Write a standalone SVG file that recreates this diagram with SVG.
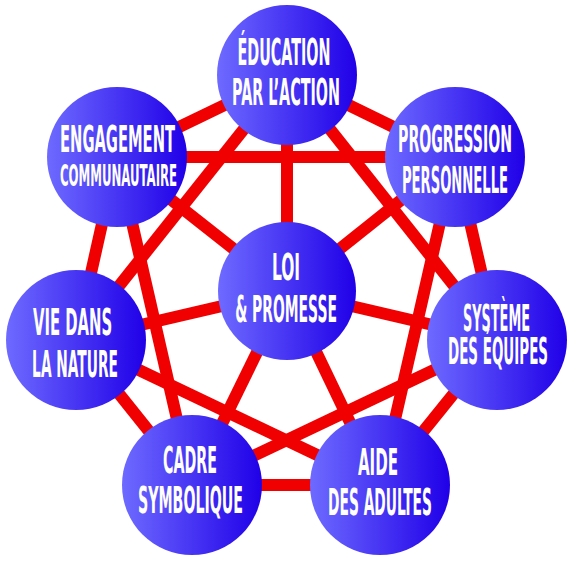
<svg xmlns="http://www.w3.org/2000/svg" width="573" height="562" viewBox="0 0 573 562">
<defs>
<linearGradient id="blue" x1="0" y1="0" x2="1" y2="0">
<stop offset="0" stop-color="#6e6aff"/>
<stop offset="1" stop-color="#2000e8"/>
</linearGradient>
<style>
.c{fill:url(#blue)}
.t{fill:#fff;font-family:"Liberation Sans Narrow","DejaVu Sans Condensed","Liberation Sans",sans-serif;font-weight:bold;font-size:37px;text-anchor:middle}
.s{font-size:31px}
#connectors line{stroke:#f00000;stroke-width:12;stroke-linecap:butt}
</style>
</defs>
<rect width="573" height="562" fill="#fff"/>
<g id="connectors">
<line x1="287" y1="75" x2="455" y2="157"/>
<line x1="455" y1="157" x2="497" y2="340"/>
<line x1="497" y1="340" x2="380" y2="485"/>
<line x1="380" y1="485" x2="192" y2="485"/>
<line x1="192" y1="485" x2="76" y2="340"/>
<line x1="76" y1="340" x2="117" y2="157"/>
<line x1="117" y1="157" x2="287" y2="75"/>
<line x1="287" y1="75" x2="497" y2="340"/>
<line x1="287" y1="75" x2="76" y2="340"/>
<line x1="455" y1="157" x2="380" y2="485"/>
<line x1="455" y1="157" x2="117" y2="157"/>
<line x1="497" y1="340" x2="192" y2="485"/>
<line x1="380" y1="485" x2="76" y2="340"/>
<line x1="192" y1="485" x2="117" y2="157"/>
<line x1="287" y1="291" x2="287" y2="75"/>
<line x1="287" y1="291" x2="455" y2="157"/>
<line x1="287" y1="291" x2="497" y2="340"/>
<line x1="287" y1="291" x2="380" y2="485"/>
<line x1="287" y1="291" x2="192" y2="485"/>
<line x1="287" y1="291" x2="76" y2="340"/>
<line x1="287" y1="291" x2="117" y2="157"/>
</g>
<g id="education">
<circle class="c" cx="287" cy="75" r="70"/>
<text class="t" transform="matrix(0.55,0,0,1,284,0)" x="0" y="65" textLength="169" lengthAdjust="spacingAndGlyphs">ÉDUCATION</text>
<text class="t" transform="matrix(0.55,0,0,1,286,0)" x="0" y="105" textLength="196" lengthAdjust="spacingAndGlyphs">PAR L’ACTION</text>
</g>
<g id="progression">
<circle class="c" cx="455" cy="157" r="70"/>
<text class="t" transform="matrix(0.55,0,0,1,455,0)" x="0" y="152" textLength="207" lengthAdjust="spacingAndGlyphs">PROGRESSION</text>
<text class="t" transform="matrix(0.55,0,0,1,455,0)" x="0" y="193" textLength="193" lengthAdjust="spacingAndGlyphs">PERSONNELLE</text>
</g>
<g id="engagement">
<circle class="c" cx="117" cy="157" r="70"/>
<text class="t" transform="matrix(0.55,0,0,1,117.5,0)" x="0" y="152" textLength="209" lengthAdjust="spacingAndGlyphs">ENGAGEMENT</text>
<text class="t s" transform="matrix(0.55,0,0,1,118.5,0)" x="0" y="186" textLength="213" lengthAdjust="spacingAndGlyphs">COMMUNAUTAIRE</text>
</g>
<g id="loi">
<circle class="c" cx="287" cy="291" r="69"/>
<text class="t" transform="matrix(0.55,0,0,1,286,0)" x="0" y="280" textLength="51" lengthAdjust="spacingAndGlyphs">LOI</text>
<text class="t" transform="matrix(0.55,0,0,1,286,0)" x="0" y="322" textLength="185" lengthAdjust="spacingAndGlyphs">&amp; PROMESSE</text>
</g>
<g id="vie">
<circle class="c" cx="76" cy="340" r="70"/>
<text class="t" transform="matrix(0.55,0,0,1,72.5,0)" x="0" y="335" textLength="144" lengthAdjust="spacingAndGlyphs">VIE DANS</text>
<text class="t" transform="matrix(0.55,0,0,1,75,0)" x="0" y="377" textLength="156" lengthAdjust="spacingAndGlyphs">LA NATURE</text>
</g>
<g id="systeme">
<circle class="c" cx="497" cy="340" r="70"/>
<text class="t" transform="matrix(0.55,0,0,1,496.5,0)" x="0" y="331" textLength="122" lengthAdjust="spacingAndGlyphs">SYSTÈME</text>
<text class="t" transform="matrix(0.55,0,0,1,498,0)" x="0" y="364" textLength="182" lengthAdjust="spacingAndGlyphs">DES ÉQUIPES</text>
</g>
<g id="cadre">
<circle class="c" cx="192" cy="485" r="70"/>
<text class="t" transform="matrix(0.55,0,0,1,190,0)" x="0" y="473" textLength="98" lengthAdjust="spacingAndGlyphs">CADRE</text>
<text class="t" transform="matrix(0.55,0,0,1,190.5,0)" x="0" y="513" textLength="191" lengthAdjust="spacingAndGlyphs">SYMBOLIQUE</text>
</g>
<g id="aide">
<circle class="c" cx="380" cy="485" r="70"/>
<text class="t" transform="matrix(0.55,0,0,1,378,0)" x="0" y="475" textLength="73" lengthAdjust="spacingAndGlyphs">AIDE</text>
<text class="t" transform="matrix(0.55,0,0,1,380,0)" x="0" y="515" textLength="189" lengthAdjust="spacingAndGlyphs">DES ADULTES</text>
</g>
</svg>
